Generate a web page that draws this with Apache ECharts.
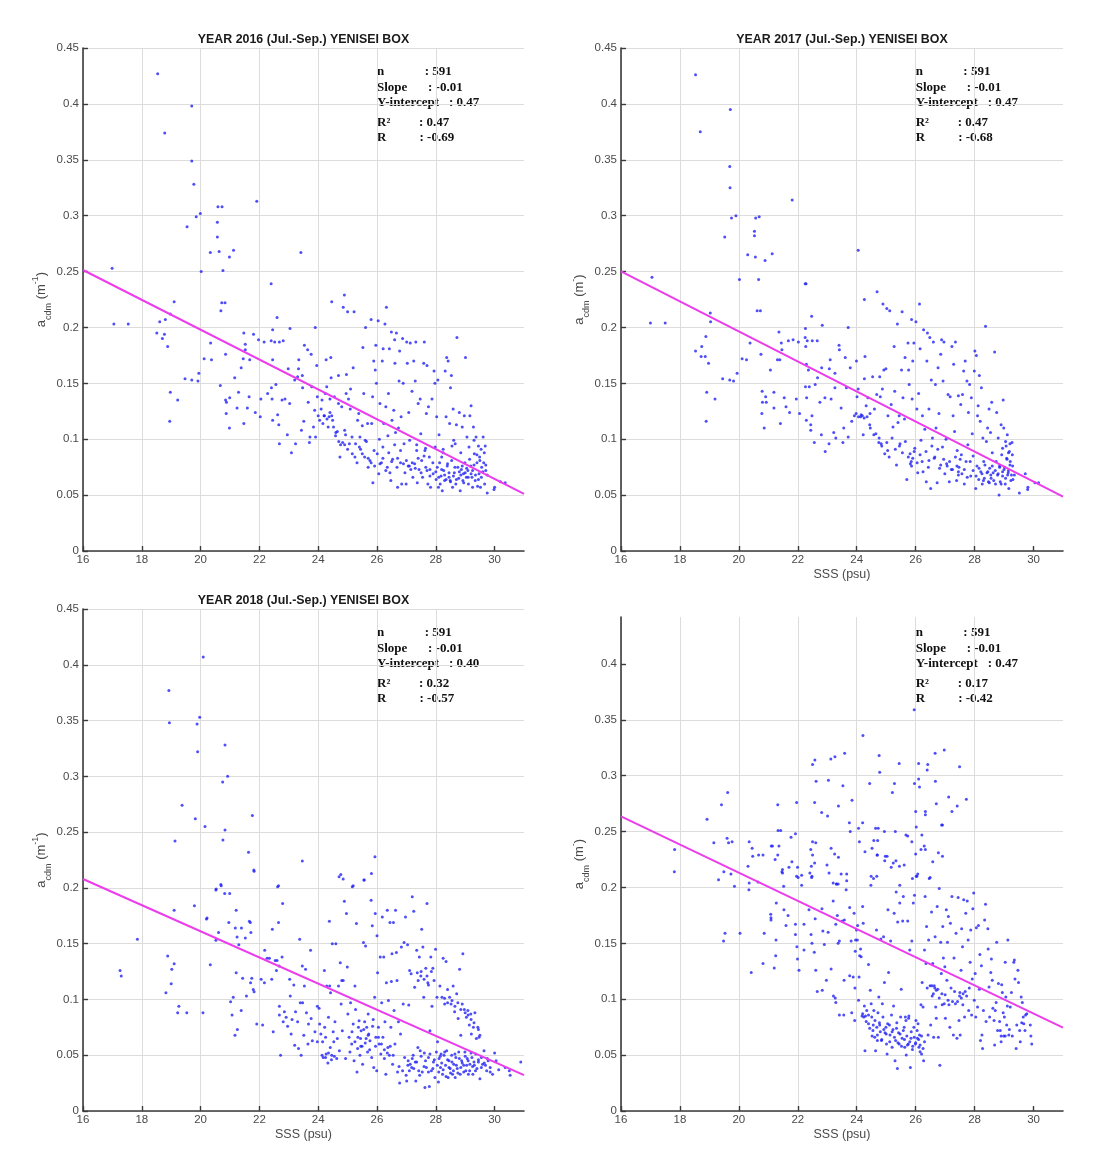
<!DOCTYPE html>
<html>
<head>
<meta charset="utf-8">
<script src="https://cdn.jsdelivr.net/npm/echarts@6/dist/echarts.min.js"></script>
<style>
  html, body { margin: 0; padding: 0; background: #ffffff; }
  #chart { width: 1102px; height: 1173px; }
</style>
</head>
<body>
<div id="chart"></div>
<script>
// ---- Observations: [SSS (psu), a_cdm (m^-1)] for the Yenisei box, Jul.-Sep. ----
const obs2016 = [
[18.54,0.427],[19.70,0.398],[18.78,0.374],[19.70,0.349],[19.77,0.328],[19.54,0.290],[19.85,0.299],[19.99,0.302],[20.59,0.308],[20.73,0.308],[20.57,0.294],[20.57,0.281],[20.33,0.267],[20.63,0.268],[20.98,0.263],[21.12,0.269],[20.76,0.251],[20.02,0.250],[16.99,0.253],[21.91,0.313],[23.41,0.267],[22.40,0.239],[24.89,0.229],
[17.05,0.203],[17.54,0.203],[19.10,0.223],[18.97,0.212],[18.80,0.207],[18.61,0.205],[18.51,0.195],[18.77,0.194],[18.70,0.190],[18.88,0.183],[18.97,0.142],[18.95,0.116],[19.22,0.135],[19.47,0.154],[19.70,0.153],[19.91,0.152],[19.94,0.159],[20.12,0.172],[20.34,0.186],[20.37,0.171],[20.69,0.215],[20.72,0.222],[20.83,0.222],[20.85,0.176],[20.67,0.148],[20.85,0.135],[20.99,0.137],[20.88,0.133],[20.87,0.123],[20.98,0.110],[21.16,0.155],[21.24,0.128],[21.29,0.142],[21.38,0.164],[21.45,0.172],[21.47,0.195],[21.52,0.185],[21.52,0.180],[21.59,0.128],[21.65,0.138],[21.67,0.171],[21.47,0.114],[21.80,0.194],[21.97,0.189],[21.86,0.124],[22.03,0.120],[22.05,0.136],[22.16,0.187],[22.28,0.141],[22.41,0.146],[22.45,0.198],[22.40,0.188],[22.52,0.187],[22.45,0.171],[22.43,0.136],[22.45,0.117],[22.56,0.149],[22.60,0.209],[22.62,0.122],[22.66,0.113],[22.68,0.096],[22.68,0.187],[22.81,0.188],[22.77,0.135],[22.87,0.136],[22.95,0.104],[22.98,0.163],[23.04,0.199],[23.03,0.132],[23.09,0.088],[23.23,0.096],[23.20,0.153],[23.30,0.156],[23.33,0.163],[23.34,0.171],[23.47,0.146],[23.46,0.157],[23.43,0.108],[23.51,0.116],[23.53,0.184],[23.64,0.180],[23.66,0.133],[23.70,0.097],[23.72,0.102],[23.76,0.176],[23.78,0.147],[23.84,0.111],[23.90,0.200],[23.88,0.126],[23.91,0.102],[23.95,0.166],[23.97,0.138],[24.00,0.121],[24.05,0.117],[24.10,0.127],[24.16,0.114],[24.13,0.135],[24.21,0.121],[24.24,0.141],[24.27,0.171],[24.29,0.147],[24.34,0.111],[24.37,0.120],[24.40,0.136],[24.43,0.173],[24.44,0.155],[24.46,0.223],[24.46,0.121],[24.49,0.117],[24.52,0.111],[24.55,0.138],[24.59,0.103],[24.65,0.107],[24.69,0.157],[24.69,0.132],[24.74,0.084],[24.76,0.095],[24.80,0.129],[24.83,0.097],[24.85,0.218],[24.90,0.108],[24.93,0.104],[24.95,0.141],[24.96,0.158],[25.00,0.214],[25.03,0.136],[25.06,0.096],[25.09,0.127],[25.10,0.145],[25.15,0.102],[25.16,0.087],[25.19,0.164],[25.22,0.214],[25.25,0.084],[25.27,0.096],[25.32,0.079],[25.34,0.117],[25.38,0.123],[25.42,0.102],[25.44,0.091],[25.50,0.112],[25.52,0.182],[25.55,0.141],[25.58,0.084],[25.61,0.200],[25.64,0.098],[25.68,0.114],[25.70,0.075],[25.76,0.081],[25.80,0.207],[25.82,0.114],[25.85,0.138],[25.86,0.061],[25.89,0.170],[25.92,0.076],[25.94,0.162],[25.96,0.184],[25.98,0.150],[26.01,0.087],[26.04,0.206],[26.06,0.069],[26.08,0.100],[26.10,0.132],[26.15,0.079],[26.18,0.170],[26.20,0.093],[26.21,0.181],[26.23,0.114],[26.27,0.203],[26.30,0.129],[26.32,0.218],[26.35,0.075],[26.37,0.103],[26.39,0.141],[26.42,0.181],[26.44,0.070],[26.47,0.063],[26.49,0.196],[26.51,0.117],[26.53,0.082],[26.57,0.126],[26.60,0.189],[26.61,0.168],[26.63,0.106],[26.66,0.195],[26.68,0.075],[26.70,0.057],[26.73,0.110],[26.75,0.152],[26.77,0.179],[26.80,0.079],[26.82,0.120],[26.84,0.060],[26.87,0.190],[26.89,0.150],[26.92,0.096],[26.95,0.070],[26.99,0.060],[27.01,0.187],[27.03,0.168],[27.06,0.076],[27.08,0.124],[27.11,0.099],[27.13,0.186],[27.15,0.073],[27.19,0.143],[27.22,0.066],[27.25,0.170],[27.28,0.078],[27.30,0.152],[27.32,0.187],[27.35,0.090],[27.37,0.061],[27.40,0.132],[27.43,0.073],[27.47,0.136],[27.49,0.105],[27.52,0.081],[27.55,0.066],[27.59,0.168],[27.61,0.187],[27.63,0.090],[27.66,0.075],[27.68,0.123],[27.70,0.166],[27.73,0.060],[27.75,0.129],[27.78,0.084],[27.80,0.073],[27.82,0.057],[27.87,0.136],[27.91,0.069],[27.94,0.161],[27.97,0.150],[27.98,0.093],[28.01,0.064],[28.03,0.120],[28.05,0.075],[28.07,0.153],[28.09,0.057],[28.11,0.104],[28.13,0.079],[28.15,0.060],[28.18,0.067],[28.20,0.084],[28.22,0.054],[28.25,0.091],[28.27,0.072],[28.30,0.063],[28.32,0.161],[28.35,0.120],[28.37,0.173],[28.39,0.076],[28.42,0.170],[28.45,0.066],[28.47,0.114],[28.49,0.063],[28.50,0.146],[28.53,0.157],[28.54,0.081],[28.57,0.057],[28.59,0.127],[28.61,0.099],[28.63,0.070],[28.66,0.096],[28.68,0.060],[28.70,0.113],[28.72,0.191],[28.75,0.075],[28.78,0.065],[28.80,0.124],[28.83,0.054],[28.85,0.088],[28.87,0.073],[28.90,0.111],[28.92,0.063],[28.94,0.069],[28.97,0.121],[28.99,0.079],[29.01,0.173],[29.04,0.066],[29.06,0.102],[29.09,0.072],[29.11,0.060],[29.13,0.093],[29.16,0.121],[29.19,0.076],[29.20,0.130],[29.23,0.066],[29.25,0.057],[29.28,0.111],[29.31,0.087],[29.34,0.063],[29.37,0.102],[29.40,0.079],[29.42,0.058],[29.45,0.094],[29.47,0.069],[29.49,0.084],[29.52,0.057],[29.54,0.091],[29.56,0.075],[29.61,0.102],[29.63,0.079],[29.66,0.060],[29.68,0.094],[29.70,0.072],[29.75,0.052],[29.98,0.055],[30.00,0.057],[30.20,0.062],[30.36,0.061],
[26.10,0.078],[26.20,0.083],[26.30,0.072],[26.40,0.088],[26.50,0.080],[26.60,0.095],[26.70,0.083],[26.80,0.090],[26.90,0.078],[27.00,0.081],[27.10,0.076],[27.20,0.079],[27.30,0.074],[27.40,0.083],[27.50,0.070],[27.60,0.085],[27.70,0.072],[27.80,0.067],[27.90,0.079],[28.00,0.071],[28.10,0.066],[28.20,0.073],[28.30,0.068],[28.35,0.064],[28.40,0.078],[28.45,0.070],[28.50,0.062],[28.60,0.067],[28.65,0.075],[28.70,0.064],[28.80,0.071],[28.85,0.068],[28.90,0.076],[28.95,0.061],[29.00,0.070],[29.05,0.074],[29.10,0.066],[29.15,0.082],[29.20,0.069],[29.25,0.072],[29.30,0.077],[29.35,0.068],[29.40,0.086],[29.45,0.064],[29.50,0.081],[29.55,0.066],[29.60,0.071],[29.65,0.088],[29.70,0.077],[29.75,0.068],[25.40,0.093],[25.50,0.087],[25.60,0.099],[25.70,0.083],[25.80,0.079],[25.90,0.090],[24.60,0.106],[24.70,0.098],[24.90,0.095],[25.00,0.091],[24.20,0.121],[24.30,0.118],[24.40,0.124],[27.35,0.095],[27.65,0.092],[28.25,0.088],[28.55,0.094],[29.30,0.099]
];

const obs2017 = [
[18.53,0.426],[19.71,0.395],[18.69,0.375],[19.69,0.344],[19.70,0.325],[19.75,0.298],[19.90,0.300],[19.52,0.281],[20.57,0.298],[20.69,0.299],[20.53,0.286],[20.53,0.282],[20.30,0.265],[20.56,0.263],[20.89,0.260],[21.13,0.266],[20.02,0.243],[20.67,0.243],[17.05,0.245],[21.81,0.314],[24.05,0.269],[22.28,0.239],[24.69,0.232],[24.26,0.225],
[17.00,0.204],[17.50,0.204],[19.03,0.213],[19.04,0.205],[18.53,0.179],[18.74,0.183],[18.72,0.174],[18.86,0.174],[18.88,0.192],[18.97,0.168],[18.91,0.142],[18.89,0.116],[19.19,0.136],[19.45,0.154],[19.69,0.153],[19.82,0.152],[19.94,0.159],[20.11,0.172],[20.26,0.171],[20.38,0.186],[20.62,0.215],[20.73,0.215],[20.75,0.176],[20.79,0.143],[20.91,0.138],[20.80,0.133],[20.93,0.133],[20.78,0.123],[20.86,0.110],[21.07,0.162],[21.19,0.128],[21.19,0.142],[21.31,0.171],[21.39,0.171],[21.36,0.196],[21.44,0.186],[21.46,0.180],[21.54,0.137],[21.41,0.114],[21.60,0.129],[21.68,0.188],[21.84,0.189],[21.72,0.124],[21.95,0.136],[22.02,0.187],[22.06,0.123],[22.25,0.239],[22.26,0.199],[22.25,0.191],[22.32,0.188],[22.27,0.183],[22.29,0.167],[22.36,0.162],[22.26,0.147],[22.39,0.147],[22.30,0.137],[22.29,0.117],[22.47,0.210],[22.49,0.188],[22.48,0.121],[22.44,0.113],[22.44,0.108],[22.56,0.097],[22.59,0.149],[22.66,0.188],[22.67,0.155],[22.75,0.133],[22.83,0.202],[22.81,0.164],[22.80,0.104],[22.92,0.137],[22.93,0.089],[23.07,0.163],[23.10,0.171],[23.13,0.136],[23.06,0.096],[23.22,0.106],[23.29,0.101],[23.26,0.159],[23.40,0.184],[23.26,0.146],[23.41,0.180],[23.47,0.128],[23.53,0.097],[23.56,0.110],[23.61,0.173],[23.65,0.146],[23.71,0.200],[23.71,0.102],[23.78,0.164],[23.83,0.116],[23.92,0.121],[23.99,0.170],[23.98,0.123],[24.01,0.138],[24.05,0.145],[24.06,0.120],[24.13,0.120],[24.19,0.121],[24.22,0.104],[24.26,0.154],[24.28,0.174],[24.32,0.130],[24.35,0.120],[24.38,0.137],[24.44,0.113],[24.46,0.110],[24.54,0.156],[24.58,0.104],[24.60,0.127],[24.68,0.140],[24.76,0.101],[24.78,0.156],[24.80,0.138],[24.83,0.096],[24.87,0.145],[24.89,0.221],[24.92,0.162],[24.95,0.087],[24.99,0.163],[25.02,0.217],[25.02,0.097],[25.06,0.121],[25.10,0.084],[25.12,0.215],[25.17,0.131],[25.20,0.101],[25.23,0.111],[25.27,0.183],[25.29,0.143],[25.31,0.091],[25.35,0.077],[25.38,0.203],[25.40,0.115],[25.44,0.121],[25.47,0.096],[25.52,0.162],[25.54,0.214],[25.57,0.137],[25.62,0.118],[25.64,0.173],[25.70,0.064],[25.74,0.186],[25.76,0.162],[25.78,0.149],[25.81,0.087],[25.86,0.207],[25.86,0.076],[25.88,0.136],[25.90,0.170],[25.94,0.186],[25.97,0.092],[26.01,0.205],[26.04,0.127],[26.07,0.070],[26.10,0.141],[26.13,0.221],[26.15,0.181],[26.18,0.099],[26.22,0.080],[26.23,0.121],[26.27,0.198],[26.31,0.109],[26.36,0.062],[26.38,0.170],[26.40,0.195],[26.43,0.075],[26.45,0.127],[26.48,0.191],[26.51,0.056],[26.53,0.153],[26.57,0.101],[26.60,0.187],[26.63,0.083],[26.67,0.149],[26.69,0.110],[26.73,0.061],[26.76,0.164],[26.79,0.123],[26.81,0.074],[26.85,0.176],[26.88,0.189],[26.91,0.093],[26.93,0.152],[26.96,0.187],[26.99,0.069],[27.03,0.100],[27.07,0.076],[27.10,0.140],[27.14,0.062],[27.17,0.138],[27.21,0.073],[27.23,0.183],[27.27,0.121],[27.29,0.167],[27.32,0.107],[27.35,0.187],[27.39,0.063],[27.41,0.090],[27.45,0.139],[27.47,0.075],[27.51,0.082],[27.53,0.131],[27.57,0.069],[27.59,0.140],[27.63,0.161],[27.65,0.060],[27.68,0.170],[27.71,0.080],[27.74,0.152],[27.77,0.095],[27.79,0.124],[27.83,0.149],[27.87,0.067],[27.89,0.137],[27.92,0.105],[27.95,0.085],[27.99,0.161],[28.01,0.179],[28.04,0.056],[28.06,0.175],[28.08,0.076],[28.10,0.121],[28.12,0.130],[28.14,0.064],[28.16,0.157],[28.19,0.116],[28.21,0.071],[28.23,0.146],[28.26,0.060],[28.28,0.101],[28.31,0.080],[28.33,0.065],[28.37,0.201],[28.40,0.098],[28.42,0.070],[28.44,0.110],[28.47,0.062],[28.49,0.127],[28.51,0.074],[28.54,0.106],[28.56,0.065],[28.58,0.133],[28.60,0.088],[28.63,0.070],[28.68,0.178],[28.71,0.060],[28.73,0.080],[28.75,0.124],[28.78,0.068],[28.80,0.101],[28.83,0.050],[28.85,0.076],[28.87,0.062],[28.90,0.113],[28.92,0.086],[28.95,0.067],[28.97,0.135],[28.99,0.110],[29.02,0.075],[29.04,0.060],[29.07,0.094],[29.09,0.083],[29.11,0.104],[29.14,0.070],[29.16,0.056],[29.18,0.089],[29.21,0.080],[29.23,0.063],[29.27,0.097],[29.29,0.076],[29.35,0.068],[29.52,0.052],[29.80,0.055],[29.81,0.057],[29.72,0.069],[30.05,0.061],[30.17,0.061],
[26.05,0.079],[26.15,0.086],[26.25,0.071],[26.35,0.089],[26.45,0.081],[26.55,0.094],[26.65,0.084],[26.75,0.091],[26.85,0.077],[26.95,0.082],[27.05,0.078],[27.15,0.080],[27.25,0.073],[27.35,0.084],[27.45,0.071],[27.55,0.086],[27.65,0.073],[27.75,0.066],[27.85,0.080],[27.95,0.072],[28.05,0.067],[28.15,0.074],[28.25,0.069],[28.30,0.063],[28.35,0.077],[28.45,0.071],[28.50,0.061],[28.55,0.068],[28.60,0.076],[28.65,0.063],[28.70,0.072],[28.80,0.069],[28.85,0.075],[28.90,0.060],[28.95,0.071],[29.00,0.073],[29.05,0.065],[29.10,0.082],[29.12,0.068],[29.15,0.072],[29.20,0.077],[29.25,0.068],[29.28,0.086],[29.30,0.064],[29.15,0.088],[29.20,0.096],[29.05,0.098],[28.95,0.092],[25.45,0.094],[25.55,0.088],[25.65,0.098],[25.75,0.084],[25.85,0.080],[25.95,0.089],[24.65,0.105],[24.75,0.097],[24.85,0.094],[25.05,0.090],[24.15,0.122],[24.25,0.119],[24.45,0.123],[25.90,0.083],[25.82,0.078],[27.40,0.076],[27.45,0.068]
];

const obs2018 = [
[20.09,0.407],[18.92,0.377],[18.94,0.348],[19.97,0.353],[19.88,0.347],[19.90,0.322],[20.83,0.328],[20.75,0.295],[20.92,0.300],[19.37,0.274],[19.82,0.262],[20.15,0.255],[20.83,0.252],[20.76,0.243],[19.13,0.242],[21.76,0.265],[21.63,0.232],[21.81,0.216],[23.46,0.224],[22.65,0.202],[20.69,0.203],[20.53,0.199],[25.93,0.228],[24.71,0.210],[24.77,0.212],[24.85,0.208],[25.19,0.202],[25.56,0.207],[25.81,0.213],
[17.26,0.126],[17.30,0.121],[17.85,0.154],[18.82,0.106],[18.88,0.139],[19.00,0.114],[19.02,0.127],[19.10,0.132],[19.10,0.180],[19.26,0.094],[19.22,0.088],[19.53,0.088],[19.79,0.184],[20.08,0.088],[20.20,0.172],[20.22,0.173],[20.33,0.131],[20.52,0.198],[20.61,0.160],[20.52,0.153],[20.70,0.202],[20.82,0.195],[20.99,0.195],[20.96,0.169],[21.02,0.098],[21.11,0.102],[21.07,0.086],[21.18,0.164],[21.21,0.180],[21.21,0.124],[21.17,0.068],[21.25,0.073],[21.30,0.149],[21.24,0.156],[21.39,0.164],[21.43,0.119],[21.38,0.090],[21.52,0.155],[21.56,0.103],[21.66,0.170],[21.69,0.169],[21.71,0.160],[21.74,0.119],[21.79,0.109],[21.82,0.107],[21.70,0.115],[21.91,0.078],[21.82,0.215],[22.06,0.118],[22.11,0.077],[22.17,0.115],[22.18,0.144],[22.26,0.137],[22.34,0.137],[22.42,0.118],[22.44,0.163],[22.47,0.071],[22.54,0.135],[22.60,0.135],[22.58,0.126],[22.62,0.201],[22.65,0.169],[22.67,0.130],[22.68,0.094],[22.68,0.086],[22.72,0.050],[22.77,0.138],[22.79,0.186],[22.81,0.080],[22.85,0.089],[22.91,0.084],[22.96,0.076],[23.03,0.118],[23.05,0.103],[23.08,0.069],[23.11,0.082],[23.17,0.113],[23.20,0.059],[23.23,0.089],[23.30,0.080],[23.33,0.056],[23.37,0.154],[23.39,0.097],[23.42,0.050],[23.46,0.130],[23.47,0.097],[23.51,0.068],[23.53,0.112],[23.57,0.127],[23.60,0.088],[23.65,0.060],[23.67,0.078],[23.74,0.144],[23.76,0.083],[23.80,0.063],[23.89,0.071],[23.97,0.094],[23.97,0.062],[24.03,0.092],[24.05,0.078],[24.09,0.069],[24.13,0.050],[24.15,0.062],[24.17,0.048],[24.21,0.126],[24.22,0.075],[24.25,0.066],[24.27,0.051],[24.29,0.112],[24.33,0.043],[24.35,0.084],[24.38,0.170],[24.39,0.112],[24.41,0.057],[24.42,0.106],[24.46,0.050],[24.48,0.150],[24.51,0.071],[24.53,0.062],[24.57,0.080],[24.60,0.150],[24.63,0.047],[24.65,0.065],[24.69,0.112],[24.72,0.054],[24.75,0.133],[24.78,0.096],[24.80,0.117],[24.82,0.072],[24.85,0.117],[24.89,0.188],[24.93,0.047],[24.96,0.177],[24.99,0.129],[25.01,0.087],[25.05,0.066],[25.08,0.053],[25.10,0.097],[25.14,0.060],[25.16,0.201],[25.19,0.078],[25.22,0.045],[25.25,0.112],[25.27,0.091],[25.30,0.168],[25.32,0.035],[25.34,0.056],[25.37,0.075],[25.39,0.081],[25.42,0.050],[25.44,0.065],[25.46,0.072],[25.49,0.058],[25.51,0.042],[25.54,0.151],[25.56,0.207],[25.58,0.080],[25.61,0.148],[25.63,0.065],[25.65,0.075],[25.68,0.053],[25.70,0.087],[25.72,0.069],[25.76,0.063],[25.80,0.189],[25.82,0.048],[25.84,0.166],[25.87,0.082],[25.89,0.039],[25.92,0.102],[25.94,0.177],[25.96,0.066],[25.99,0.036],[26.00,0.157],[26.02,0.124],[26.05,0.075],[26.07,0.060],[26.11,0.138],[26.13,0.051],[26.16,0.097],[26.18,0.174],[26.20,0.066],[26.23,0.138],[26.25,0.047],[26.27,0.080],[26.30,0.033],[26.32,0.115],[26.35,0.180],[26.37,0.057],[26.39,0.099],[26.42,0.050],[26.44,0.169],[26.47,0.075],[26.49,0.116],[26.51,0.141],[26.53,0.042],[26.56,0.169],[26.58,0.090],[26.61,0.060],[26.63,0.180],[26.66,0.142],[26.68,0.117],[26.70,0.035],[26.73,0.080],[26.75,0.040],[26.77,0.025],[26.80,0.069],[26.83,0.147],[26.87,0.036],[26.89,0.096],[26.92,0.151],[26.94,0.048],[26.97,0.174],[26.99,0.032],[27.01,0.027],[27.04,0.149],[27.06,0.045],[27.08,0.095],[27.11,0.126],[27.13,0.042],[27.16,0.123],[27.18,0.039],[27.20,0.192],[27.23,0.050],[27.25,0.179],[27.28,0.111],[27.30,0.044],[27.32,0.027],[27.35,0.144],[27.37,0.124],[27.39,0.057],[27.42,0.036],[27.44,0.138],[27.47,0.054],[27.49,0.121],[27.52,0.163],[27.54,0.035],[27.56,0.147],[27.59,0.102],[27.61,0.052],[27.63,0.021],[27.66,0.128],[27.68,0.039],[27.70,0.186],[27.73,0.115],[27.75,0.048],[27.78,0.022],[27.80,0.072],[27.83,0.138],[27.85,0.036],[27.87,0.094],[27.90,0.128],[27.92,0.044],[27.94,0.117],[27.97,0.030],[27.99,0.145],[28.02,0.053],[28.04,0.102],[28.06,0.062],[28.09,0.026],[28.11,0.047],[28.14,0.112],[28.16,0.039],[28.18,0.051],[28.21,0.102],[28.23,0.033],[28.25,0.137],[28.28,0.050],[28.30,0.096],[28.33,0.041],[28.35,0.134],[28.37,0.054],[28.40,0.109],[28.42,0.030],[28.45,0.045],[28.47,0.102],[28.49,0.038],[28.52,0.096],[28.54,0.050],[28.57,0.033],[28.59,0.112],[28.61,0.042],[28.64,0.089],[28.66,0.030],[28.68,0.048],[28.71,0.105],[28.73,0.038],[28.76,0.083],[28.78,0.053],[28.81,0.127],[28.83,0.033],[28.85,0.068],[28.88,0.045],[28.90,0.096],[28.92,0.141],[28.95,0.041],[28.97,0.091],[28.99,0.053],[29.02,0.036],[29.04,0.084],[29.07,0.047],[29.09,0.090],[29.11,0.033],[29.14,0.077],[29.16,0.042],[29.19,0.087],[29.21,0.069],[29.23,0.048],[29.26,0.033],[29.28,0.075],[29.31,0.041],[29.33,0.088],[29.36,0.051],[29.38,0.065],[29.40,0.038],[29.43,0.075],[29.45,0.044],[29.47,0.066],[29.50,0.029],[29.55,0.048],[29.59,0.042],[29.64,0.054],[29.69,0.041],[29.73,0.036],[29.78,0.045],[29.85,0.039],[29.93,0.033],[30.00,0.052],[30.05,0.045],[30.14,0.037],[30.36,0.039],[30.50,0.036],[30.53,0.032],[30.89,0.044],
[27.05,0.041],[27.10,0.036],[27.20,0.047],[27.25,0.038],[27.35,0.044],[27.45,0.032],[27.50,0.049],[27.60,0.040],[27.65,0.045],[27.75,0.035],[27.80,0.051],[27.90,0.038],[27.95,0.046],[28.05,0.041],[28.10,0.035],[28.15,0.049],[28.20,0.043],[28.25,0.037],[28.30,0.053],[28.35,0.031],[28.40,0.046],[28.45,0.039],[28.50,0.034],[28.55,0.044],[28.60,0.036],[28.65,0.051],[28.70,0.041],[28.75,0.034],[28.80,0.047],[28.85,0.039],[28.90,0.043],[28.95,0.035],[29.00,0.049],[29.05,0.041],[29.10,0.045],[29.15,0.036],[29.20,0.052],[29.25,0.040],[29.30,0.044],[29.35,0.036],[29.45,0.046],[29.55,0.039],[29.65,0.043],[29.75,0.047],[29.85,0.035],[25.15,0.071],[25.25,0.062],[25.35,0.066],[25.45,0.058],[25.55,0.073],[25.60,0.061],[25.70,0.068],[25.75,0.055],[25.85,0.076],[25.95,0.058],[26.05,0.066],[26.15,0.060],[26.25,0.055],[26.35,0.052],[26.45,0.058],[26.55,0.050],[24.25,0.048],[24.35,0.052],[24.45,0.046],[24.55,0.049],[28.30,0.101],[28.40,0.097],[28.55,0.099],[28.65,0.094],[28.75,0.097],[28.85,0.091],[29.00,0.088],[29.10,0.086],[29.20,0.082],[29.30,0.079],[29.45,0.073],[29.50,0.068],[27.50,0.125],[27.60,0.118],[27.70,0.121],[27.75,0.113],[27.85,0.125],[27.40,0.117]
];

const obsAll = [
[25.95,0.359],[24.21,0.336],[26.97,0.323],[26.66,0.320],[23.59,0.320],[24.76,0.318],[23.26,0.317],[23.12,0.315],[22.58,0.314],[22.50,0.310],[25.44,0.311],[26.10,0.311],[26.41,0.310],[26.39,0.305],[27.49,0.308],[24.78,0.303],[25.96,0.293],[26.10,0.297],[26.13,0.290],[26.67,0.295],[22.62,0.295],[23.04,0.296],[23.53,0.291],[24.44,0.293],[25.28,0.293],[25.21,0.285],[19.62,0.285],[19.41,0.274],[18.92,0.261],[21.32,0.274],[21.96,0.276],[22.57,0.276],[23.84,0.278],[26.70,0.275],[27.12,0.281],[27.72,0.279],[27.41,0.273],[27.23,0.268],[26.33,0.268],[26.33,0.265],[26.00,0.268],[22.81,0.267],[23.01,0.264],[23.38,0.273],[23.75,0.258],[24.20,0.258],[24.06,0.253],[24.64,0.253],[24.73,0.253],[23.78,0.250],[24.94,0.250],[25.31,0.250],[26.02,0.254],[26.88,0.256],[21.33,0.251],[21.42,0.251],[21.77,0.245],[21.92,0.248],[21.36,0.237],[21.10,0.237],[21.23,0.225],[21.32,0.229],[21.46,0.214],[21.48,0.213],[21.70,0.218],[21.80,0.223],[21.96,0.210],[21.99,0.218],[22.13,0.202],[22.50,0.241],[22.61,0.240],[22.44,0.234],[22.50,0.229],[22.57,0.222],[22.46,0.219],[22.48,0.210],[22.99,0.220],[23.06,0.213],[23.13,0.235],[23.25,0.230],[23.38,0.227],[23.47,0.212],[23.66,0.212],[23.66,0.206],[23.20,0.204],[23.32,0.203],[23.37,0.203],[24.09,0.241],[24.28,0.232],[24.52,0.235],[24.58,0.242],[24.71,0.242],[24.69,0.229],[24.70,0.229],[24.97,0.228],[25.03,0.228],[24.95,0.224],[25.24,0.222],[25.17,0.218],[25.33,0.224],[25.45,0.219],[25.61,0.220],[25.67,0.247],[25.73,0.246],[25.87,0.241],[26.00,0.230],[26.18,0.234],[26.21,0.247],[26.29,0.237],[26.33,0.234],[26.49,0.209],[26.58,0.223],[26.77,0.231],[26.91,0.228],[26.91,0.256],[24.49,0.210],[24.57,0.208],[24.68,0.210],[25.89,0.208],[26.02,0.210],[26.07,0.212],[24.48,0.202],[25.46,0.202],[17.82,0.234],[17.81,0.214],[19.15,0.240],[19.60,0.244],[19.65,0.240],[19.77,0.241],[19.49,0.214],[19.73,0.212],[19.31,0.207],[19.85,0.201],[20.35,0.241],[20.45,0.235],[20.47,0.228],[20.31,0.219],[20.35,0.204],[20.67,0.229],[20.82,0.229],[20.65,0.205],[21.14,0.237],[22.13,0.211],[22.41,0.213],
[20.34,0.198],[19.53,0.159],[19.48,0.152],[20.04,0.159],[20.42,0.124],[20.82,0.132],[20.86,0.159],[21.20,0.128],[21.25,0.139],[21.26,0.153],[21.08,0.176],[21.09,0.173],[21.09,0.171],[21.27,0.186],[21.52,0.201],[21.48,0.216],[21.53,0.180],[21.60,0.166],[21.67,0.175],[21.92,0.167],[21.92,0.158],[22.01,0.209],[21.97,0.147],[21.99,0.136],[22.04,0.126],[22.21,0.144],[22.21,0.167],[22.38,0.180],[22.45,0.158],[22.47,0.209],[22.48,0.150],[22.56,0.142],[22.59,0.172],[22.61,0.126],[22.66,0.107],[22.82,0.181],[22.85,0.161],[22.83,0.108],[22.90,0.149],[22.97,0.117],[23.03,0.160],[23.13,0.127],[23.20,0.188],[23.21,0.103],[23.27,0.101],[23.29,0.097],[23.29,0.167],[23.34,0.175],[23.37,0.150],[23.31,0.203],[23.41,0.152],[23.41,0.086],[23.56,0.086],[23.57,0.117],[23.51,0.170],[23.58,0.171],[23.64,0.198],[23.76,0.182],[23.76,0.121],[23.81,0.152],[23.83,0.088],[23.88,0.120],[23.91,0.177],[23.94,0.110],[23.93,0.081],[23.95,0.143],[23.96,0.153],[23.99,0.162],[24.02,0.153],[24.03,0.166],[24.06,0.099],[24.08,0.120],[24.10,0.139],[24.13,0.145],[24.15,0.138],[24.18,0.085],[24.20,0.183],[24.22,0.168],[24.24,0.084],[24.26,0.094],[24.28,0.054],[24.32,0.080],[24.34,0.090],[24.40,0.131],[24.40,0.078],[24.44,0.074],[24.46,0.108],[24.49,0.096],[24.51,0.084],[24.52,0.067],[24.56,0.077],[24.58,0.090],[24.61,0.066],[24.64,0.054],[24.67,0.162],[24.68,0.075],[24.70,0.063],[24.72,0.088],[24.75,0.102],[24.77,0.079],[24.80,0.071],[24.82,0.154],[24.84,0.063],[24.87,0.096],[24.89,0.084],[24.91,0.156],[24.94,0.115],[24.96,0.070],[24.99,0.075],[25.01,0.060],[25.03,0.051],[25.06,0.180],[25.08,0.124],[25.11,0.077],[25.13,0.068],[25.15,0.152],[25.18,0.086],[25.20,0.057],[25.23,0.073],[25.25,0.094],[25.27,0.177],[25.30,0.045],[25.32,0.063],[25.34,0.196],[25.36,0.079],[25.38,0.038],[25.39,0.169],[25.42,0.070],[25.44,0.060],[25.46,0.186],[25.49,0.084],[25.51,0.109],[25.54,0.065],[25.56,0.170],[25.58,0.192],[25.61,0.075],[25.63,0.057],[25.65,0.084],[25.68,0.050],[25.70,0.067],[25.73,0.170],[25.75,0.060],[25.77,0.085],[25.80,0.144],[25.82,0.039],[25.84,0.065],[25.87,0.152],[25.89,0.055],[25.92,0.186],[25.94,0.075],[25.96,0.193],[25.99,0.060],[26.01,0.081],[26.04,0.210],[26.06,0.065],[26.08,0.078],[26.11,0.057],[26.13,0.068],[26.15,0.053],[26.18,0.095],[26.20,0.051],[26.22,0.115],[26.25,0.093],[26.27,0.045],[26.30,0.144],[26.32,0.192],[26.35,0.132],[26.37,0.165],[26.39,0.110],[26.42,0.068],[26.44,0.153],[26.46,0.208],[26.49,0.112],[26.51,0.077],[26.54,0.178],[26.56,0.103],[26.58,0.132],[26.61,0.066],[26.63,0.112],[26.66,0.156],[26.68,0.093],[26.70,0.083],[26.73,0.183],[26.75,0.109],[26.77,0.066],[26.80,0.199],[26.82,0.041],[26.85,0.151],[26.87,0.123],[26.89,0.105],[26.92,0.165],[26.94,0.137],[26.97,0.096],[26.99,0.129],[27.01,0.083],[27.04,0.180],[27.06,0.117],[27.08,0.151],[27.11,0.174],[27.13,0.095],[27.16,0.075],[27.18,0.168],[27.20,0.110],[27.23,0.192],[27.25,0.098],[27.28,0.068],[27.30,0.137],[27.32,0.107],[27.35,0.096],[27.37,0.159],[27.40,0.065],[27.42,0.098],[27.44,0.191],[27.47,0.081],[27.49,0.103],[27.51,0.068],[27.54,0.126],[27.56,0.163],[27.59,0.147],[27.61,0.105],[27.63,0.189],[27.66,0.084],[27.68,0.107],[27.70,0.177],[27.73,0.103],[27.75,0.188],[27.78,0.153],[27.80,0.090],[27.82,0.110],[27.85,0.133],[27.87,0.162],[27.90,0.086],[27.92,0.118],[27.94,0.181],[27.97,0.195],[27.99,0.099],[28.02,0.123],[28.04,0.084],[28.06,0.164],[28.10,0.093],[28.13,0.166],[28.16,0.109],[28.18,0.140],[28.20,0.063],[28.23,0.130],[28.25,0.068],[28.27,0.056],[28.30,0.090],[28.34,0.171],[28.37,0.185],[28.39,0.080],[28.45,0.163],[28.46,0.145],[28.49,0.111],[28.51,0.084],[28.55,0.124],[28.57,0.136],[28.60,0.117],[28.62,0.092],[28.66,0.081],[28.68,0.059],[28.70,0.090],[28.73,0.097],[28.75,0.151],[28.78,0.072],[28.81,0.114],[28.85,0.080],[28.87,0.072],[28.90,0.062],[28.92,0.113],[28.94,0.106],[28.97,0.088],[28.99,0.067],[29.01,0.084],[29.04,0.133],[29.06,0.102],[29.09,0.077],[29.11,0.094],[29.13,0.153],[29.16,0.068],[29.18,0.073],[29.21,0.093],[29.25,0.106],[29.28,0.067],[29.33,0.133],[29.35,0.135],[29.37,0.118],[29.41,0.056],[29.43,0.077],[29.47,0.126],[29.49,0.115],[29.53,0.072],[29.55,0.062],[29.58,0.102],[29.60,0.079],[29.62,0.097],[29.65,0.084],[29.67,0.078],[29.71,0.072],[29.73,0.086],[29.77,0.087],[29.89,0.077],[29.91,0.067],[29.94,0.060],[29.04,0.067],[28.90,0.067],
[24.55,0.072],[24.62,0.081],[24.70,0.068],[24.78,0.077],[24.85,0.064],[24.92,0.073],[25.00,0.069],[25.05,0.078],[25.12,0.062],[25.20,0.071],[25.28,0.066],[25.35,0.074],[25.40,0.061],[25.47,0.069],[25.52,0.058],[25.58,0.072],[25.62,0.064],[25.67,0.081],[25.72,0.059],[25.76,0.083],[25.80,0.062],[25.85,0.071],[25.90,0.058],[25.95,0.066],[26.00,0.061],[26.05,0.072],[26.10,0.064],[26.15,0.059],[26.20,0.067],[26.25,0.056],[26.30,0.062],[24.30,0.085],[24.40,0.086],[24.20,0.087],[26.60,0.105],[26.70,0.108],[26.80,0.101],[27.00,0.104],[27.10,0.099],[27.50,0.106],[27.55,0.101],[27.60,0.095],[26.55,0.112],[26.65,0.110],[26.90,0.095]
];

// ---- Regression fits and summary statistics per panel ----
const panelTitles = ['YEAR 2016 (Jul.-Sep.) YENISEI BOX', 'YEAR 2017 (Jul.-Sep.) YENISEI BOX', 'YEAR 2018 (Jul.-Sep.) YENISEI BOX', ''];
const fitSlope = [-0.01335, -0.01344, -0.01172, -0.0126];
const fitIntercept = [0.4650, 0.4652, 0.3955, 0.4652];
const statN = [591, 591, 591, 591];
const statR2 = [0.47, 0.47, 0.32, 0.17];
const statR = [-0.69, -0.68, -0.57, -0.42];

// ---- Axis ticks ----
const xTickValues = [16, 18, 20, 22, 24, 26, 28, 30];
const yTickValues = [0, 0.05, 0.1, 0.15, 0.2, 0.25, 0.3, 0.35, 0.4, 0.45];
const yTickValuesShort = [0, 0.05, 0.1, 0.15, 0.2, 0.25, 0.3, 0.35, 0.4];
const xRange = [16, 31];
const yMaxes = [0.45, 0.45, 0.45, 0.442];

// ---- Layout (pixels) ----
const panels = [
  { left: 83,  top: 48,  width: 441, height: 503, statTop: 48,  showXName: false, unitSup: '-1' },
  { left: 621, top: 48,  width: 442, height: 503, statTop: 48,  showXName: true,  unitSup: '-' },
  { left: 83,  top: 609, width: 441, height: 502, statTop: 609, showXName: true,  unitSup: '-1' },
  { left: 621, top: 617, width: 442, height: 494, statTop: 609, showXName: true,  unitSup: '-' }
];
const datasets = [obs2016, obs2017, obs2018, obsAll];

const SANS = 'Liberation Sans';
const SERIF = 'Liberation Serif';
const AXIS_COLOR = '#3b3b3b';
const LABEL_COLOR = '#4a4a4a';
const GRID_COLOR = '#dcdcdc';
const DOT_COLOR = '#2323f5';
const FIT_COLOR = '#ec3cec';

const grids = [], xAxes = [], yAxes = [], series = [], graphics = [];

panels.forEach((p, i) => {
  grids.push({ left: p.left, top: p.top, width: p.width, height: p.height });

  xAxes.push({
    gridIndex: i, type: 'value', min: xRange[0], max: xRange[1], interval: 2,
    axisLine: { show: true, onZero: false, lineStyle: { color: AXIS_COLOR, width: 1.6 } },
    axisTick: { show: true, inside: true, length: 5, customValues: xTickValues, lineStyle: { color: AXIS_COLOR, width: 1.4 } },
    axisLabel: { show: true, customValues: xTickValues, color: LABEL_COLOR, fontSize: 11.5, fontFamily: SANS, margin: 3 },
    splitLine: { show: true, showMaxLine: false, lineStyle: { color: GRID_COLOR, width: 1 } },
    name: p.showXName ? 'SSS (psu)' : '',
    nameLocation: 'middle', nameGap: 17,
    nameTextStyle: { color: LABEL_COLOR, fontSize: 12.5, fontFamily: SANS }
  });

  const yTicks = yMaxes[i] >= 0.45 ? yTickValues : yTickValuesShort;
  yAxes.push({
    gridIndex: i, type: 'value', min: 0, max: yMaxes[i], interval: 0.05,
    axisLine: { show: true, onZero: false, lineStyle: { color: AXIS_COLOR, width: 1.6 } },
    axisTick: { show: true, inside: true, length: 5, customValues: yTicks, lineStyle: { color: AXIS_COLOR, width: 1.4 } },
    axisLabel: { show: true, customValues: yTicks, color: LABEL_COLOR, fontSize: 11.5, fontFamily: SANS, margin: 4 },
    splitLine: { show: true, showMaxLine: yMaxes[i] >= 0.45, lineStyle: { color: GRID_COLOR, width: 1 } },
    name: '{a|a}{s|cdm}{a| (m}{p|' + p.unitSup + '}{a|)}',
    nameLocation: 'middle', nameGap: 27,
    nameTextStyle: {
      color: LABEL_COLOR, fontFamily: SANS,
      rich: {
        a: { fontSize: 13, fontFamily: SANS, color: LABEL_COLOR, lineHeight: 22, verticalAlign: 'middle' },
        s: { fontSize: 9, fontFamily: SANS, color: LABEL_COLOR, lineHeight: 12, verticalAlign: 'bottom' },
        p: { fontSize: 9, fontFamily: SANS, color: LABEL_COLOR, lineHeight: 12, verticalAlign: 'top' }
      }
    }
  });

  series.push({
    type: 'scatter', xAxisIndex: i, yAxisIndex: i,
    data: datasets[i], symbol: 'circle', symbolSize: 3,
    itemStyle: { color: DOT_COLOR }, silent: true, z: 2
  });

  series.push({
    type: 'line', xAxisIndex: i, yAxisIndex: i,
    data: xRange.map(x => [x, fitIntercept[i] + fitSlope[i] * x]),
    showSymbol: false, symbol: 'none',
    lineStyle: { color: FIT_COLOR, width: 2 }, silent: true, z: 3
  });

  // Panel title
  if (panelTitles[i]) {
    graphics.push({
      type: 'text', silent: true,
      style: {
        text: panelTitles[i], x: p.left + p.width / 2, y: p.top - 8.5,
        font: 'bold 12.4px "' + SANS + '"', fill: '#1a1a1a',
        textAlign: 'center', textVerticalAlign: 'middle'
      }
    });
  }

  // Summary statistics block, anchored at SSS = 26
  const sx = p.left + (26 - xRange[0]) / (xRange[1] - xRange[0]) * p.width;
  const rows = [
    { label: 'n',           value: ': ' + statN[i],                 dx: 47.7, dy: 23.3 },
    { label: 'Slope',       value: ': ' + fitSlope[i].toFixed(2),    dx: 51,   dy: 39.8 },
    { label: 'Y-intercept', value: ': ' + fitIntercept[i].toFixed(2),dx: 72,   dy: 54.8 },
    { label: 'R\u00B2',     value: ': ' + statR2[i].toFixed(2),      dx: 42,   dy: 74.3 },
    { label: 'R',           value: ': ' + statR[i].toFixed(2),       dx: 42.5, dy: 89.8 }
  ];
  rows.forEach(r => {
    graphics.push({
      type: 'text', silent: true,
      style: { text: r.label, x: sx, y: p.statTop + r.dy, font: 'bold 13px "' + SERIF + '"', fill: '#111111', textAlign: 'left', textVerticalAlign: 'middle' }
    });
    graphics.push({
      type: 'text', silent: true,
      style: { text: r.value, x: sx + r.dx, y: p.statTop + r.dy, font: 'bold 13px "' + SERIF + '"', fill: '#111111', textAlign: 'left', textVerticalAlign: 'middle' }
    });
  });
});

const chart = echarts.init(document.getElementById('chart'), null, { renderer: 'canvas' });
chart.setOption({
  backgroundColor: '#ffffff',
  animation: false,
  grid: grids,
  xAxis: xAxes,
  yAxis: yAxes,
  series: series,
  graphic: graphics
});
</script>
</body>
</html>
